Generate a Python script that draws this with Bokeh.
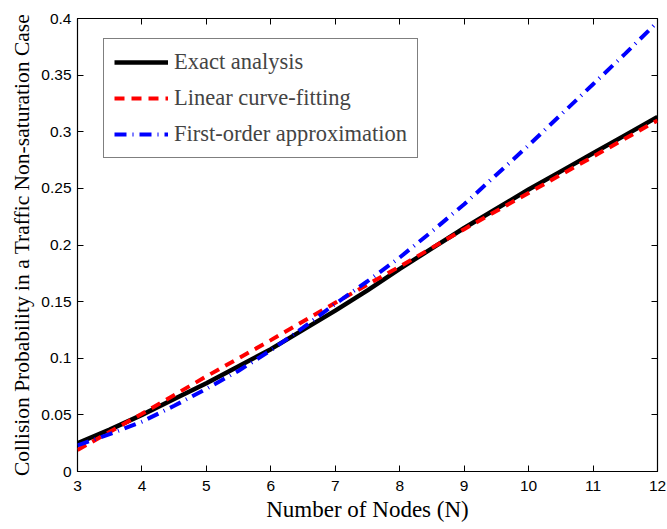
from bokeh.plotting import figure
from bokeh.models import LinearAxis, FixedTicker, Legend, LegendItem, Range1d, CustomJSTickFormatter
from bokeh.embed import file_html
from bokeh.resources import INLINE

# ---- data ----
nodes_fine = [3, 3.5, 4, 4.5, 5, 5.5, 6, 6.5, 7, 7.5, 8, 8.5, 9, 9.5, 10, 10.5, 11, 11.5, 12]
exact = [0.025, 0.037, 0.050, 0.064, 0.078, 0.093, 0.108, 0.125, 0.142, 0.160, 0.179,
         0.197, 0.215, 0.232, 0.249, 0.265, 0.281, 0.297, 0.313]
first_order = [0.023, 0.033, 0.044, 0.058, 0.073, 0.089, 0.107, 0.127, 0.148, 0.168, 0.189,
               0.212, 0.236, 0.262, 0.288, 0.315, 0.342, 0.369, 0.397]
nodes = [3, 4, 5, 6, 7, 8, 9, 10, 11, 12]
linear_fit = [0.019, 0.051, 0.084, 0.116, 0.149, 0.181, 0.214, 0.246, 0.278, 0.310]

x_ticks = [3, 4, 5, 6, 7, 8, 9, 10, 11, 12]
y_ticks = [0, 0.05, 0.1, 0.15, 0.2, 0.25, 0.3, 0.35, 0.4]
y_tick_labels = ["0", "0.05", "0.1", "0.15", "0.2", "0.25", "0.3", "0.35", "0.4"]

series_names = ["Exact analysis", "Linear curve-fitting", "First-order approximation"]
x_title = "Number of Nodes (N)"
y_title = "Collision Probability in a Traffic Non-saturation Case"

SERIF = "Liberation Serif"
SANS = "Liberation Sans"

p = figure(width=667, height=529, output_backend="svg", toolbar_location=None,
           x_range=Range1d(3, 12), y_range=Range1d(0, 0.4),
           min_border_left=77, min_border_right=10, min_border_top=18, min_border_bottom=58)
p.xgrid.visible = False
p.ygrid.visible = False
p.outline_line_color = "black"
p.outline_line_width = 1.2
p.background_fill_color = "white"
p.border_fill_color = "white"

r_exact = p.line(nodes_fine, exact, line_color="black", line_width=4.5)
r_lin = p.line(nodes, linear_fit, line_color="#ff0000", line_width=4, line_dash="10 7")
r_first = p.line(nodes_fine, first_order, line_color="#0000ff", line_width=4, line_dash="12 6 1 6")

ylabels = {t: l for t, l in zip(y_ticks, y_tick_labels)}

for ax in (p.xaxis[0], p.yaxis[0]):
    ax.major_tick_in = 6
    ax.major_tick_out = 0
    ax.minor_tick_line_color = None
    ax.axis_line_color = None
    ax.major_tick_line_color = "black"
    ax.major_label_text_font = SANS
    ax.major_label_text_font_size = "15.5px"
    ax.major_label_text_color = "black"
    ax.axis_label_text_font = SERIF
    ax.axis_label_text_font_style = "normal"
    ax.axis_label_text_color = "black"

p.xaxis[0].ticker = FixedTicker(ticks=x_ticks)
p.yaxis[0].ticker = FixedTicker(ticks=y_ticks)
p.yaxis[0].major_label_overrides = ylabels
p.xaxis[0].axis_label = x_title
p.yaxis[0].axis_label = y_title
p.xaxis[0].axis_label_text_font_size = "23px"
p.yaxis[0].axis_label_text_font_size = "21.5px"
p.xaxis[0].major_label_standoff = 9
p.xaxis[0].axis_label_standoff = 3
p.yaxis[0].major_label_standoff = 6
p.yaxis[0].axis_label_standoff = 4

# mirrored ticks on top and right (no labels)
blank = CustomJSTickFormatter(code="return '';")
top = LinearAxis(ticker=FixedTicker(ticks=x_ticks), formatter=blank)
right = LinearAxis(ticker=FixedTicker(ticks=y_ticks), formatter=blank)
for ax in (top, right):
    ax.major_tick_in = 6
    ax.major_tick_out = 0
    ax.minor_tick_line_color = None
    ax.axis_line_color = None
    ax.major_label_standoff = 0
p.add_layout(top, "above")
p.add_layout(right, "right")

legend = Legend(items=[LegendItem(label=series_names[0], renderers=[r_exact]),
                       LegendItem(label=series_names[1], renderers=[r_lin]),
                       LegendItem(label=series_names[2], renderers=[r_first])],
                location=(26, 313), margin=0, padding=10, spacing=10,
                glyph_width=54, glyph_height=24, label_height=24, label_standoff=6,
                label_text_font=SERIF, label_text_font_size="22.5px",
                border_line_color="black", border_line_width=1.5,
                background_fill_alpha=1.0)
p.add_layout(legend)

open("out.html", "w").write(file_html(p, INLINE))
